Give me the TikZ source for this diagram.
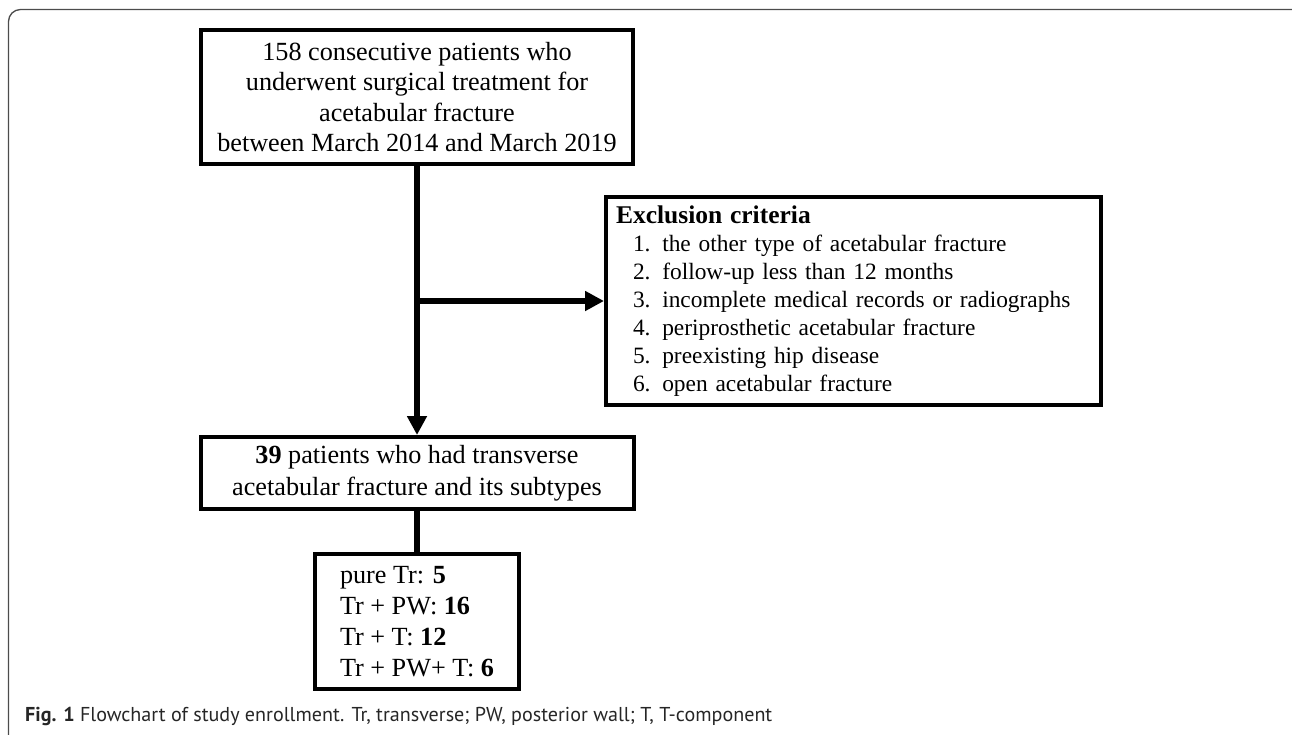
\documentclass[tikz,border=0pt]{standalone}
\usepackage{fontspec}
\usepackage{graphicx}
\setmainfont{Liberation Serif}
\newfontfamily\capfont{PT Sans}
\usetikzlibrary{arrows.meta}
\begin{document}
\begin{tikzpicture}[x=1pt,y=-1pt,
  box/.style={draw, line width=4pt, inner sep=0pt, font=\fontsize{26.2}{30.5}\selectfont},
  conn/.style={line width=6pt},
  tipped/.style={-{Triangle[length=19pt,width=19pt]}},
  frame/.style={draw=black!70, line width=1.3pt, rounded corners=12pt}]
\useasboundingbox (0,0) rectangle (1292,735);
\draw[frame] (8.5,9.5) rectangle (1310,770);

\node[box, minimum width=432pt, minimum height=134pt, align=center] (top) at (417,97)
  {158 consecutive patients who\\underwent surgical treatment for\\acetabular fracture\\between March 2014 and March 2019};

\node[box, minimum width=495pt, minimum height=208pt, text width=475pt, inner xsep=10pt,
  align=left, font=\fontsize{23.4}{28}\selectfont] (excl) at (853.5,301)
  {{\bfseries\fontsize{25.5}{28}\selectfont Exclusion criteria}\\
   \hspace*{17pt}1. the other type of acetabular fracture\\
   \hspace*{17pt}2. follow-up less than 12 months\\
   \hspace*{17pt}3. incomplete medical records or radiographs\\
   \hspace*{17pt}4. periprosthetic acetabular fracture\\
   \hspace*{17pt}5. preexisting hip disease\\
   \hspace*{17pt}6. open acetabular fracture};

\node[box, minimum width=433pt, minimum height=72pt, align=center,
  font=\fontsize{26.2}{31.5}\selectfont] (mid) at (417,473)
  {\textbf{39} patients who had transverse\\acetabular fracture and its subtypes};

\node[box, minimum width=204pt, minimum height=135pt,
  align=left, font=\fontsize{26.2}{31}\selectfont] (sub) at (417,621.5)
  {pure Tr: \textbf{5}\\Tr + PW: \textbf{16}\\Tr + T: \textbf{12}\\Tr + PW+ T: \textbf{6}};

\draw[conn, tipped] (top.south) -- (mid.north);
\draw[conn, tipped] (top.south |- excl.west) -- (excl.west);
\draw[conn] (mid.south) -- (sub.north);

\node[anchor=base west, inner sep=0pt, text=black!85] (cap) at (25,721)
  {\resizebox{747pt}{!}{\capfont\textbf{Fig. 1} Flowchart of study enrollment. Tr, transverse; PW, posterior wall; T, T-component}};
\end{tikzpicture}
\end{document}
